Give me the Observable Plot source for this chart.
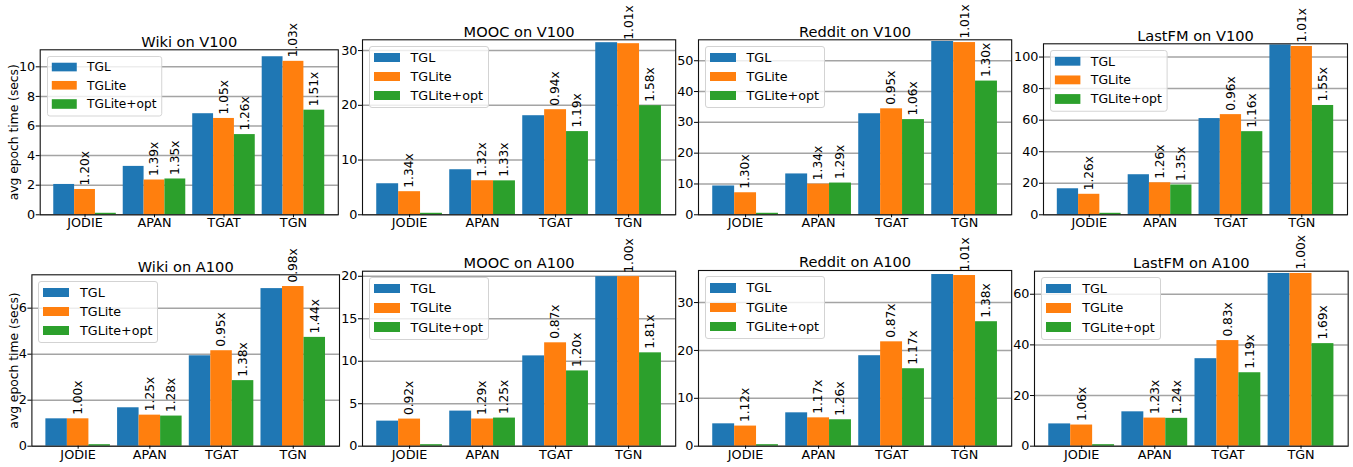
<!DOCTYPE html>
<html>
<head>
<meta charset="utf-8">
<script src="https://cdn.jsdelivr.net/npm/d3@7"></script>
<script src="https://cdn.jsdelivr.net/npm/@observablehq/plot@0.6"></script>
<style>
  html, body { margin: 0; padding: 0; background: #fff; }
  #root { position: relative; width: 1353px; height: 467px; overflow: hidden; font-family: "DejaVu Sans", sans-serif; }
  #root svg { position: absolute; max-width: none; overflow: visible; }
  .legend { position: absolute; background: rgba(255,255,255,0.8); border: 1px solid #d3d3d3; border-radius: 3px;
            padding: 1px 5px 2px 4px; font-size: 12.7px; color: #000; transform-origin: 0 0; }
  .legend .row { display: flex; align-items: center; height: 19.2px; white-space: nowrap; }
  .legend .sw { width: 25.7px; height: 9.3px; margin-right: 11px; }
</style>
</head>
<body>
<div id="root"></div>
<script>
// ---------- data ----------
const models = ["JODIE", "APAN", "TGAT", "TGN"];
const systems = ["TGL", "TGLite", "TGLite+opt"];
const datasets = ["Wiki", "MOOC", "Reddit", "LastFM"];
const gpus = ["V100", "A100"];

// avg epoch time (secs); rows = datasets (Wiki, MOOC, Reddit, LastFM), columns = models
const TGL_V100    = [[2.05, 3.27, 6.83, 10.68], [5.67, 8.23, 18.1, 31.44], [9.35, 13.26, 32.8, 56.25], [16.5, 25.4, 61.0, 107.7]];
const TGLite_V100 = [[1.71, 2.35, 6.51, 10.37], [4.22, 6.22, 19.2, 31.26], [7.15, 9.95, 34.4, 55.9],  [13.0, 20.3, 63.5, 106.7]];
const opt_V100    = [[0, 2.42, 5.42, 7.07],     [0, 6.2, 15.2, 19.93],     [0, 10.3, 30.9, 43.4],     [0, 18.9, 52.7, 69.3]];
const TGL_A100    = [[1.19, 1.67, 3.93, 6.85],  [2.95, 4.13, 10.63, 19.96], [4.67, 6.97, 18.9, 35.86], [8.8, 13.57, 34.55, 68.2]];
const TGLite_A100 = [[1.19, 1.35, 4.15, 6.94],  [3.19, 3.2, 12.17, 19.96],  [4.2, 5.92, 21.8, 35.65],  [8.35, 11.1, 41.7, 68.2]];
const opt_A100    = [[0, 1.31, 2.85, 4.73],     [0, 3.31, 8.86, 10.99],     [0, 5.52, 16.18, 26.0],    [0, 11.0, 29.0, 40.5]];

// speedup annotations over TGL
const spTGLite_V100 = [["1.20x","1.39x","1.05x","1.03x"], ["1.34x","1.32x","0.94x","1.01x"], ["1.30x","1.34x","0.95x","1.01x"], ["1.26x","1.26x","0.96x","1.01x"]];
const spOpt_V100    = [[null,"1.35x","1.26x","1.51x"], [null,"1.33x","1.19x","1.58x"], [null,"1.29x","1.06x","1.30x"], [null,"1.35x","1.16x","1.55x"]];
const spTGLite_A100 = [["1.00x","1.25x","0.95x","0.98x"], ["0.92x","1.29x","0.87x","1.00x"], ["1.12x","1.17x","0.87x","1.01x"], ["1.06x","1.23x","0.83x","1.00x"]];
const spOpt_A100    = [[null,"1.28x","1.38x","1.44x"], [null,"1.25x","1.20x","1.81x"], [null,"1.26x","1.17x","1.38x"], [null,"1.24x","1.19x","1.69x"]];

// y-axis ticks and upper limits per panel
const yTicks_V100 = [[0, 2, 4, 6, 8, 10], [0, 10, 20, 30], [0, 10, 20, 30, 40, 50], [0, 20, 40, 60, 80, 100]];
const yTicks_A100 = [[0, 2, 4, 6], [0, 5, 10, 15, 20], [0, 10, 20, 30], [0, 20, 40, 60]];
const yTop_V100 = [11.15, 31.97, 56.8, 108.4];
const yTop_A100 = [7.45, 20.6, 36.7, 69.1];

// ---------- layout (page px) ----------
const colors = ["#1f77b4", "#ff7f0e", "#2ca02c"];
const frames = [ // [left, top, right, bottom]
  [[39.7, 49.3, 337.8, 214.3], [361.9, 39.3, 675.1, 214.3], [697.9, 39.3, 1011.1, 214.3], [1042.5, 43.3, 1346.5, 214.3]],
  [[31.4, 274.3, 339.0, 445.7], [361.9, 270.7, 675.1, 445.7], [697.9, 270.0, 1011.1, 445.7], [1033.6, 270.7, 1347.3, 445.7]]
];
const rowTop = [0, 232], rowBottom = [232, 467];
const legendScale = [[0.96, 1, 1, 0.98], [1, 1, 1, 1]];
const yLabelDx = [-26, -18];

const root = document.getElementById("root");
const byGpu = {
  V100: {t: [TGL_V100, TGLite_V100, opt_V100], sp: [null, spTGLite_V100, spOpt_V100], ticks: yTicks_V100, top: yTop_V100},
  A100: {t: [TGL_A100, TGLite_A100, opt_A100], sp: [null, spTGLite_A100, spOpt_A100], ticks: yTicks_A100, top: yTop_A100}
};
const W = 0.3;

gpus.forEach((gpu, r) => {
  const G = byGpu[gpu];
  datasets.forEach((ds, c) => {
    const [fl, ft, fr, fb] = frames[r][c];
    const mL = c === 0 ? fl : 38;
    const mR = 4;
    const svgLeft = fl - mL;
    const mT = ft - rowTop[r];
    const mB = rowBottom[r] - fb;
    const width = (fr - fl) + mL + mR;
    const height = rowBottom[r] - rowTop[r];

    const rows = [];
    systems.forEach((s, j) => models.forEach((m, i) => {
      rows.push({i, j, s, v: G.t[j][c][i], label: G.sp[j] ? G.sp[j][c][i] : null});
    }));
    const labelRows = rows.filter(d => d.label != null);
    const zeroRows = rows.filter(d => d.v === 0);
    const x1 = d => d.i + (d.j - 1) * W - W / 2;
    const x2 = d => d.i + (d.j - 1) * W + W / 2;
    const xc = d => d.i + (d.j - 1) * W;

    const marks = [
      Plot.gridY(G.ticks[c], {stroke: "#a4a4a4", strokeOpacity: 1, strokeWidth: 1.5}),
      Plot.rect(rows, {x1, x2, y1: 0, y2: "v", fill: "s"}),
      Plot.rect(zeroRows, {x1, x2, y1: 0, y2: "v", fill: "s", insetTop: -1.5}),
      Plot.frame({stroke: "#111", strokeWidth: 1.1}),
      Plot.axisY(G.ticks[c], {tickSize: 4, tickPadding: 1, fontSize: 12.8, label: null}),
      Plot.axisX([0, 1, 2, 3], {tickSize: 3, tickPadding: 0.5, tickFormat: i => models[i], fontSize: 12.8, label: null}),
      Plot.text(labelRows, {x: xc, y: "v", text: "label", rotate: -90, textAnchor: "start", dy: -4, fontSize: 12.2, fill: "#000"}),
      Plot.text([`${ds} on ${gpu}`], {frameAnchor: "top", lineAnchor: "bottom", dy: -3, fontSize: 14.6, fill: "#000"})
    ];
    if (c === 0) {
      marks.push(Plot.text(["avg epoch time (secs)"], {frameAnchor: "left", textAnchor: "middle", dx: yLabelDx[r], rotate: -90, fontSize: 12.3, fill: "#000"}));
    }

    const svg = Plot.plot({
      width, height,
      marginLeft: mL, marginRight: mR, marginTop: mT, marginBottom: mB,
      style: {fontFamily: "DejaVu Sans", fontSize: "12.8px", color: "#000", background: "transparent", overflow: "visible"},
      x: {type: "linear", domain: [-0.645, 3.645], axis: null},
      y: {domain: [0, G.top[c]], axis: null},
      color: {domain: systems, range: colors},
      marks
    });
    svg.style.left = svgLeft + "px";
    svg.style.top = rowTop[r] + "px";
    root.appendChild(svg);

    // legend box (upper left inside the frame)
    const lg = document.createElement("div");
    lg.className = "legend";
    lg.style.left = (fl + 7) + "px";
    lg.style.top = (ft + 6.4) + "px";
    lg.style.transform = `scale(${legendScale[r][c]})`;
    systems.forEach((s, j) => {
      const row = document.createElement("div");
      row.className = "row";
      const sw = document.createElement("span");
      sw.className = "sw";
      sw.style.background = colors[j];
      const tx = document.createElement("span");
      tx.textContent = s;
      row.appendChild(sw); row.appendChild(tx);
      lg.appendChild(row);
    });
    root.appendChild(lg);
  });
});
</script>
</body>
</html>
